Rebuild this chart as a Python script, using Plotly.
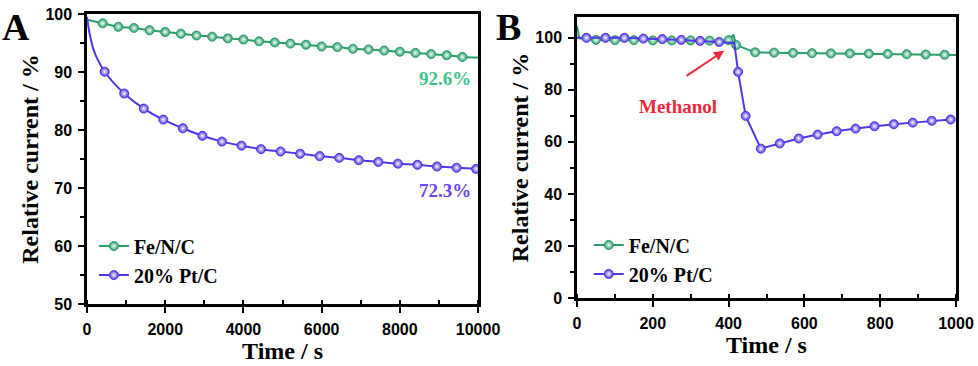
import plotly.graph_objects as go

# ---- Panel A: long-term stability ----
a_fe_marker_t = [400, 800, 1200, 1600, 2000, 2400, 2800, 3200, 3600, 4000, 4400, 4800,
                 5200, 5600, 6000, 6400, 6800, 7200, 7600, 8000, 8400, 8800, 9200, 9600]
a_fe_marker_v = [98.4, 97.8, 97.6, 97.2, 96.9, 96.6, 96.3, 96.1, 95.8, 95.6, 95.3, 95.1,
                 94.9, 94.7, 94.4, 94.3, 94.0, 93.9, 93.7, 93.5, 93.3, 93.1, 92.9, 92.6]
a_fe_extra_t = [0, 10000]
a_fe_extra_v = [99.0, 92.5]

a_pt_marker_t = [450, 950, 1450, 1950, 2450, 2950, 3450, 3950, 4450, 4950,
                 5450, 5950, 6450, 6950, 7450, 7950, 8450, 8950, 9450, 9950]
a_pt_marker_v = [90.05, 86.3, 83.7, 81.8, 80.3, 79.0, 78.0, 77.3, 76.7, 76.3,
                 75.9, 75.5, 75.2, 74.8, 74.5, 74.2, 74.0, 73.7, 73.5, 73.3]
a_pt_extra_t = [0, 30, 85, 160, 260]
a_pt_extra_v = [99.5, 98.0, 96.0, 94.0, 92.3]

# ---- Panel B: methanol tolerance ----
b_fe_marker_t = [50, 100, 150, 200, 250, 300, 350, 400, 420, 470, 520, 570,
                 620, 670, 720, 770, 820, 870, 920, 970]
b_fe_marker_v = [99.2, 99.1, 99.1, 99.0, 99.0, 99.0, 98.9, 99.1, 97.2, 94.4, 94.3, 94.2,
                 94.1, 94.0, 94.0, 93.9, 93.8, 93.7, 93.6, 93.5]
b_fe_extra_t = [0, 6, 413, 1000]
b_fe_extra_v = [104.5, 99.8, 101.2, 93.4]

b_pt_marker_t = [25, 75, 125, 175, 225, 275, 325, 375, 425, 445, 485, 535, 585,
                 635, 685, 735, 785, 836, 886, 936, 986]
b_pt_marker_v = [100.0, 100.0, 100.0, 99.7, 99.5, 99.2, 98.8, 98.4, 86.9, 70.0, 57.4, 59.4, 61.3,
                 62.8, 64.1, 65.1, 66.0, 66.8, 67.4, 68.1, 68.6]
b_pt_extra_t = [0, 415]
b_pt_extra_v = [100.0, 98.0]

series_names = ["Fe/N/C", "20% Pt/C"]
end_labels = ["92.6%", "72.3%"]

GREEN = "#2a9d6c"
PURPLE = "#5434e8"
SERIF = "Liberation Serif"
SANS = "Liberation Sans"


def merged(t1, v1, t2, v2):
    pts = sorted(zip(list(t1) + list(t2), list(v1) + list(v2)))
    return [p[0] for p in pts], [p[1] for p in pts]


fig = go.Figure()

panels = [
    ("x", "y", "legend", "spline",
     [(a_fe_marker_t, a_fe_marker_v, a_fe_extra_t, a_fe_extra_v, GREEN),
      (a_pt_marker_t, a_pt_marker_v, a_pt_extra_t, a_pt_extra_v, PURPLE)]),
    ("x2", "y2", "legend2", "linear",
     [(b_fe_marker_t, b_fe_marker_v, b_fe_extra_t, b_fe_extra_v, GREEN),
      (b_pt_marker_t, b_pt_marker_v, b_pt_extra_t, b_pt_extra_v, PURPLE)]),
]

for xa, ya, leg, shape, series in panels:
    for name, (mt, mv, et, ev, col) in zip(series_names, series):
        ct, cv = merged(mt, mv, et, ev)
        fig.add_trace(go.Scatter(x=ct, y=cv, mode="lines", xaxis=xa, yaxis=ya,
                                 line=dict(color=col, width=2, shape=shape),
                                 showlegend=False, hoverinfo="skip"))
        # markers drawn without their own connecting line; legend entry is a dummy trace
        fig.add_trace(go.Scatter(x=mt, y=mv, mode="markers", name=name,
                                 xaxis=xa, yaxis=ya, legend=leg, showlegend=False,
                                 marker=dict(size=9, color=col, symbol="circle",
                                             line=dict(color=col, width=1),
                                             gradient=dict(type="radial", color="#f4fff9")),
                                 cliponaxis=False))
        fig.add_trace(go.Scatter(x=[None], y=[None], mode="lines+markers", name=name,
                                 xaxis=xa, yaxis=ya, legend=leg,
                                 line=dict(color=col, width=2),
                                 marker=dict(size=9, color=col, symbol="circle",
                                             line=dict(color=col, width=1),
                                             gradient=dict(type="radial", color="#f4fff9"))))

axis_common = dict(showline=True, linecolor="black", linewidth=2.5, mirror=True,
                   ticks="outside", ticklen=6, tickwidth=2, tickcolor="black",
                   showgrid=False, zeroline=False, tickformat="d", ticklabelstandoff=3,
                   automargin=False,
                   tickfont=dict(family=SANS, size=16, color="black", weight="bold"),
                   title_font=dict(family=SERIF, size=24, color="black", weight="bold"))

legend_common = dict(xanchor="left", yanchor="top", bgcolor="rgba(0,0,0,0)",
                     font=dict(family=SERIF, size=20, color="black", weight="bold"),
                     tracegroupgap=2, itemwidth=30)

fig.update_layout(
    width=978, height=366, margin=dict(l=0, r=0, t=0, b=0, autoexpand=False),
    plot_bgcolor="white", paper_bgcolor="white",
    xaxis=dict(axis_common, domain=[0.0890, 0.4888], range=[0, 10000], dtick=2000,
               minor=dict(dtick=1000, ticks="inside", ticklen=4, tickwidth=2, tickcolor="black"),
               title=dict(text="Time / s", standoff=6), anchor="y"),
    yaxis=dict(axis_common, domain=[0.1694, 0.9617], range=[50, 100], dtick=10,
               minor=dict(dtick=5, ticks="outside", ticklen=4, tickwidth=2, tickcolor="black"),
               title=dict(text="Relative current / %", standoff=0), anchor="x"),
    xaxis2=dict(axis_common, domain=[0.590, 0.9775], range=[0, 1000], dtick=200,
                minor=dict(dtick=100, ticks="inside", ticklen=4, tickwidth=2, tickcolor="black"),
                title=dict(text="Time / s", standoff=6), anchor="y2"),
    yaxis2=dict(axis_common, domain=[0.1858, 0.9536], range=[0, 108], dtick=20,
                minor=dict(dtick=10, ticks="outside", ticklen=4, tickwidth=2, tickcolor="black"),
                title=dict(text="Relative current / %", standoff=0), anchor="x2"),
    legend=dict(legend_common, x=0.096, y=0.381),
    legend2=dict(legend_common, x=0.602, y=0.384),
    showlegend=True,
)

# panel letters
for txt, px_ in [("A", 0.0), ("B", 0.505)]:
    fig.add_annotation(text=txt, xref="paper", yref="paper", x=px_, y=0.99,
                       xanchor="left", yanchor="top", showarrow=False,
                       font=dict(family=SERIF, size=38, color="black", weight="bold"))

# end values on panel A
for txt, yv, col in [(end_labels[0], 88.8, "#3cc48c"), (end_labels[1], 69.5, "#6a45f2")]:
    fig.add_annotation(text=txt, x=9156, y=yv, xref="x", yref="y", showarrow=False,
                       font=dict(family=SERIF, size=19, color=col, weight="bold"))

# methanol arrow on panel B
fig.add_annotation(x=388, y=95, ax=285, ay=85, xref="x2", yref="y2", axref="x2", ayref="y2",
                   showarrow=True, arrowhead=2, arrowsize=1, arrowwidth=2, arrowcolor="#f0283c",
                   text="")
fig.add_annotation(text="Methanol", x=266, y=73.5, xref="x2", yref="y2", showarrow=False,
                   font=dict(family=SERIF, size=19, color="#f0283c", weight="bold"))

fig.write_html("out.html", config={"displayModeBar": False},
               post_script="document.body.style.margin='0';")
